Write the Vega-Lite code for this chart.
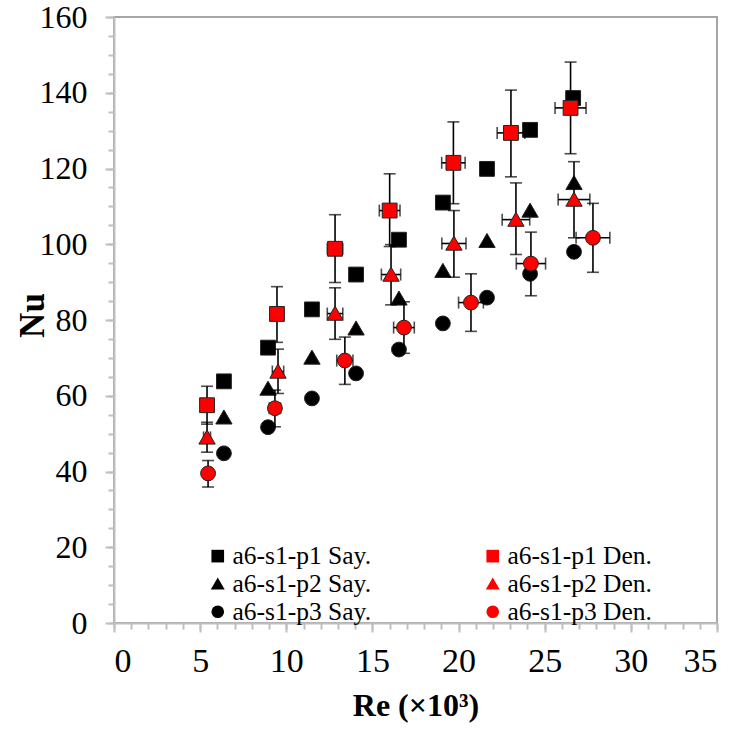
{
  "$schema": "https://vega.github.io/schema/vega-lite/v6.json",
  "autosize": {"type": "none"},
  "padding": {"left": 114, "top": 17, "right": 20, "bottom": 106},
  "width": 603,
  "height": 606,
  "config": {
    "font": "Times New Roman, Liberation Serif, serif",
    "view": {"stroke": "#a6a6a6", "strokeWidth": 2},
    "axis": {"grid": false, "labelColor": "black", "titleColor": "black", "domainColor": "#bfbfbf", "domainWidth": 2, "tickColor": "#bfbfbf", "tickWidth": 2, "labelFont": "Times New Roman, Liberation Serif, serif", "titleFont": "Times New Roman, Liberation Serif, serif"}
  },
  "datasets": {
    "pts": [
      {"series": "a6-s1-p1 Say.", "source": "Say.", "re": 6.38, "nu": 63.8},
      {"series": "a6-s1-p1 Say.", "source": "Say.", "re": 8.94, "nu": 72.7},
      {"series": "a6-s1-p1 Say.", "source": "Say.", "re": 11.49, "nu": 82.8},
      {"series": "a6-s1-p1 Say.", "source": "Say.", "re": 14.05, "nu": 92.0},
      {"series": "a6-s1-p1 Say.", "source": "Say.", "re": 16.54, "nu": 101.2},
      {"series": "a6-s1-p1 Say.", "source": "Say.", "re": 19.09, "nu": 111.0},
      {"series": "a6-s1-p1 Say.", "source": "Say.", "re": 21.65, "nu": 119.9},
      {"series": "a6-s1-p1 Say.", "source": "Say.", "re": 24.15, "nu": 130.2},
      {"series": "a6-s1-p1 Say.", "source": "Say.", "re": 26.65, "nu": 138.6},
      {"series": "a6-s1-p2 Say.", "source": "Say.", "re": 6.38, "nu": 54.3},
      {"series": "a6-s1-p2 Say.", "source": "Say.", "re": 8.94, "nu": 61.9},
      {"series": "a6-s1-p2 Say.", "source": "Say.", "re": 11.49, "nu": 70.1},
      {"series": "a6-s1-p2 Say.", "source": "Say.", "re": 14.05, "nu": 77.8},
      {"series": "a6-s1-p2 Say.", "source": "Say.", "re": 16.54, "nu": 85.7},
      {"series": "a6-s1-p2 Say.", "source": "Say.", "re": 19.09, "nu": 93.0},
      {"series": "a6-s1-p2 Say.", "source": "Say.", "re": 21.65, "nu": 100.9},
      {"series": "a6-s1-p2 Say.", "source": "Say.", "re": 24.15, "nu": 108.9},
      {"series": "a6-s1-p2 Say.", "source": "Say.", "re": 26.7, "nu": 116.2},
      {"series": "a6-s1-p3 Say.", "source": "Say.", "re": 6.38, "nu": 44.8},
      {"series": "a6-s1-p3 Say.", "source": "Say.", "re": 8.94, "nu": 51.7},
      {"series": "a6-s1-p3 Say.", "source": "Say.", "re": 11.49, "nu": 59.3},
      {"series": "a6-s1-p3 Say.", "source": "Say.", "re": 14.05, "nu": 65.9},
      {"series": "a6-s1-p3 Say.", "source": "Say.", "re": 16.54, "nu": 72.2},
      {"series": "a6-s1-p3 Say.", "source": "Say.", "re": 19.09, "nu": 79.1},
      {"series": "a6-s1-p3 Say.", "source": "Say.", "re": 21.65, "nu": 85.9},
      {"series": "a6-s1-p3 Say.", "source": "Say.", "re": 24.15, "nu": 92.2},
      {"series": "a6-s1-p3 Say.", "source": "Say.", "re": 26.7, "nu": 98.0},
      {"series": "a6-s1-p1 Den.", "source": "Den.", "re": 5.4, "nu": 57.5, "nu_lo": 52.5, "nu_hi": 62.5, "re_lo": 5.2, "re_hi": 5.6},
      {"series": "a6-s1-p1 Den.", "source": "Den.", "re": 9.46, "nu": 81.6, "nu_lo": 74.1, "nu_hi": 88.8, "re_lo": 9.13, "re_hi": 9.79},
      {"series": "a6-s1-p1 Den.", "source": "Den.", "re": 12.83, "nu": 98.8, "nu_lo": 89.9, "nu_hi": 107.8, "re_lo": 12.38, "re_hi": 13.28},
      {"series": "a6-s1-p1 Den.", "source": "Den.", "re": 16.0, "nu": 108.9, "nu_lo": 99.4, "nu_hi": 118.6, "re_lo": 15.4, "re_hi": 16.6},
      {"series": "a6-s1-p1 Den.", "source": "Den.", "re": 19.7, "nu": 121.5, "nu_lo": 110.7, "nu_hi": 132.3, "re_lo": 19.02, "re_hi": 20.38},
      {"series": "a6-s1-p1 Den.", "source": "Den.", "re": 23.04, "nu": 129.4, "nu_lo": 117.8, "nu_hi": 140.7, "re_lo": 22.24, "re_hi": 23.84},
      {"series": "a6-s1-p1 Den.", "source": "Den.", "re": 26.5, "nu": 136.0, "nu_lo": 123.9, "nu_hi": 148.1, "re_lo": 25.6, "re_hi": 27.4},
      {"series": "a6-s1-p2 Den.", "source": "Den.", "re": 5.4, "nu": 49.0, "nu_lo": 45.1, "nu_hi": 53.0, "re_lo": 5.2, "re_hi": 5.6},
      {"series": "a6-s1-p2 Den.", "source": "Den.", "re": 9.52, "nu": 66.4, "nu_lo": 60.6, "nu_hi": 72.3, "re_lo": 9.19, "re_hi": 9.85},
      {"series": "a6-s1-p2 Den.", "source": "Den.", "re": 12.83, "nu": 81.7, "nu_lo": 74.9, "nu_hi": 88.5, "re_lo": 12.38, "re_hi": 13.28},
      {"series": "a6-s1-p2 Den.", "source": "Den.", "re": 16.08, "nu": 92.0, "nu_lo": 84.0, "nu_hi": 99.9, "re_lo": 15.52, "re_hi": 16.64},
      {"series": "a6-s1-p2 Den.", "source": "Den.", "re": 19.73, "nu": 100.2, "nu_lo": 91.3, "nu_hi": 108.9, "re_lo": 19.03, "re_hi": 20.43},
      {"series": "a6-s1-p2 Den.", "source": "Den.", "re": 23.33, "nu": 106.5, "nu_lo": 97.3, "nu_hi": 116.2, "re_lo": 22.53, "re_hi": 24.13},
      {"series": "a6-s1-p2 Den.", "source": "Den.", "re": 26.7, "nu": 111.8, "nu_lo": 101.7, "nu_hi": 121.8, "re_lo": 25.78, "re_hi": 27.62},
      {"series": "a6-s1-p3 Den.", "source": "Den.", "re": 5.46, "nu": 39.5, "nu_lo": 35.9, "nu_hi": 42.9, "re_lo": 5.27, "re_hi": 5.65},
      {"series": "a6-s1-p3 Den.", "source": "Den.", "re": 9.34, "nu": 56.7, "nu_lo": 51.8, "nu_hi": 61.5, "re_lo": 9.01, "re_hi": 9.67},
      {"series": "a6-s1-p3 Den.", "source": "Den.", "re": 13.4, "nu": 69.3, "nu_lo": 63.0, "nu_hi": 75.5, "re_lo": 12.93, "re_hi": 13.87},
      {"series": "a6-s1-p3 Den.", "source": "Den.", "re": 16.83, "nu": 78.0, "nu_lo": 71.2, "nu_hi": 84.8, "re_lo": 16.23, "re_hi": 17.43},
      {"series": "a6-s1-p3 Den.", "source": "Den.", "re": 20.72, "nu": 84.6, "nu_lo": 77.0, "nu_hi": 92.2, "re_lo": 20.0, "re_hi": 21.44},
      {"series": "a6-s1-p3 Den.", "source": "Den.", "re": 24.2, "nu": 94.9, "nu_lo": 86.4, "nu_hi": 103.2, "re_lo": 23.35, "re_hi": 25.05},
      {"series": "a6-s1-p3 Den.", "source": "Den.", "re": 27.8, "nu": 101.7, "nu_lo": 92.6, "nu_hi": 110.8, "re_lo": 26.82, "re_hi": 28.78}
    ]
  },
  "data": {"name": "pts"},
  "resolve": {"axis": {"x": "independent", "y": "independent"}},
  "layer": [
    {
      "transform": [{"filter": "datum.source == 'Say.'"}],
      "mark": {"type": "point", "filled": true, "size": 220, "stroke": "#222", "strokeWidth": 1, "opacity": 1},
      "encoding": {
        "x": {"field": "re", "type": "quantitative", "scale": {"domain": [0, 35], "nice": false},
          "axis": {"values": [0, 5, 10, 15, 20, 25, 30, 35], "title": "Re (×10³)", "titleFontSize": 32, "titleFontWeight": "bold", "labelFontSize": 34, "tickSize": 9, "labelPadding": 12, "titlePadding": 12, "orient": "bottom"}},
        "y": {"field": "nu", "type": "quantitative", "scale": {"domain": [0, 160], "nice": false},
          "axis": {"values": [0, 20, 40, 60, 80, 100, 120, 140, 160], "title": "Nu", "titleFontSize": 35, "titleFontWeight": "bold", "titleX": -64, "titleY": 298, "labelFontSize": 32, "tickSize": 9, "labelPadding": 18, "orient": "left"}},
        "shape": {"field": "series", "type": "nominal",
          "scale": {"domain": ["a6-s1-p1 Say.", "a6-s1-p2 Say.", "a6-s1-p3 Say.", "a6-s1-p1 Den.", "a6-s1-p2 Den.", "a6-s1-p3 Den."], "range": ["square", "M0,-1L1.1,0.9L-1.1,0.9Z", "circle", "square", "M0,-1L1.1,0.9L-1.1,0.9Z", "circle"]},
          "legend": {"title": null, "orient": "none", "legendX": 91, "legendY": 526, "columns": 2, "columnPadding": 108, "rowPadding": 1, "labelFontSize": 25.5, "labelColor": "black", "symbolSize": 160, "symbolStrokeColor": "#222", "symbolStrokeWidth": 1, "labelOffset": 2, "labelLimit": 300}},
        "fill": {"field": "series", "type": "nominal",
          "scale": {"domain": ["a6-s1-p1 Say.", "a6-s1-p2 Say.", "a6-s1-p3 Say.", "a6-s1-p1 Den.", "a6-s1-p2 Den.", "a6-s1-p3 Den."], "range": ["black", "black", "black", "#ff0000", "#ff0000", "#ff0000"]},
          "legend": {"title": null, "orient": "none", "legendX": 91, "legendY": 526, "columns": 2, "columnPadding": 108, "rowPadding": 1, "labelFontSize": 25.5, "labelColor": "black", "symbolSize": 160, "symbolStrokeColor": "#222", "symbolStrokeWidth": 1, "labelOffset": 2, "labelLimit": 300}}
      }
    },
    {
      "transform": [{"filter": "datum.source == 'Den.'"}],
      "mark": {"type": "errorbar", "ticks": true, "size": 12, "thickness": 1.6, "color": "#000000"},
      "encoding": {
        "x": {"field": "re", "type": "quantitative", "axis": null},
        "y": {"field": "nu_lo", "type": "quantitative", "axis": null},
        "y2": {"field": "nu_hi"}
      }
    },
    {
      "transform": [{"filter": "datum.source == 'Den.'"}],
      "mark": {"type": "errorbar", "ticks": true, "size": 12, "thickness": 1.6, "color": "#000000"},
      "encoding": {
        "y": {"field": "nu", "type": "quantitative", "axis": null},
        "x": {"field": "re_lo", "type": "quantitative", "axis": null},
        "x2": {"field": "re_hi"}
      }
    },
    {
      "transform": [{"filter": "datum.source == 'Den.'"}],
      "mark": {"type": "point", "filled": true, "size": 220, "stroke": "#222", "strokeWidth": 1, "opacity": 1},
      "encoding": {
        "x": {"field": "re", "type": "quantitative",
          "axis": {"values": [0,1,2,3,4,5,6,7,8,9,10,11,12,13,14,15,16,17,18,19,20,21,22,23,24,25,26,27,28,29,30,31,32,33,34,35], "labels": false, "title": null, "tickSize": 6, "domain": false, "orient": "bottom"}},
        "y": {"field": "nu", "type": "quantitative",
          "axis": {"values": [0,5,10,15,20,25,30,35,40,45,50,55,60,65,70,75,80,85,90,95,100,105,110,115,120,125,130,135,140,145,150,155,160], "labels": false, "title": null, "tickSize": 6, "domain": false, "orient": "left"}},
        "shape": {"field": "series", "type": "nominal"},
        "fill": {"field": "series", "type": "nominal"}
      }
    }
  ]
}
